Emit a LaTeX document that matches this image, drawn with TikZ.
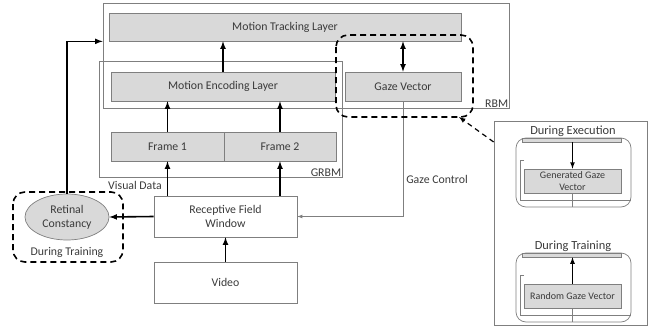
\documentclass[tikz,border=0pt]{standalone}
\usepackage{fontspec}
\setmainfont{Carlito}
\usetikzlibrary{fit,positioning,shapes.geometric}
\definecolor{boxgray}{HTML}{D9D9D9}
\definecolor{linegray}{HTML}{7F7F7F}
\definecolor{txtgray}{HTML}{3A3A3A}
\tikzset{
  frame/.style={draw=linegray,line width=0.7pt,inner sep=0pt},
  layer/.style={draw=linegray,fill=boxgray,line width=0.7pt,inner sep=1pt,text=txtgray,align=center,font=\fontsize{11.8}{14}\selectfont},
  plainbox/.style={layer,fill=white},
  lbl/.style={text=txtgray,inner sep=1pt,font=\fontsize{11.8}{14}\selectfont},
  flow/.style={->,>=latex,line width=1.6pt},
  ctrl/.style={->,>=latex,draw=linegray,line width=0.7pt},
  grouped/.style={draw,line width=1.6pt,dash pattern=on 6pt off 4pt,rounded corners=12pt},
  minipanel/.style={frame,rounded corners=10pt}
}
% one of the two small panels on the right
\newcommand*\gazepanel[5]{%
  \node[lbl,font=\fontsize{12.4}{14}\selectfont] (#1lbl) at (573,#2-7) {#3};
  \node[minipanel,minimum width=115pt,minimum height=69pt] (#1) at (573.5,#2+34.5) {};
  \node[layer,inner sep=0pt,minimum width=99pt,minimum height=4pt] (#1top) at (572,#2+2) {};
  \draw[frame] (524,#2+22) -- (520,#2+22) -- (520,#2+62) -- (631,#2+62);
  \node[layer,font=\fontsize{10}{12}\selectfont,minimum width=97pt,minimum height=24pt] (#1box) at (572.5,#2+43) {#4};
  \draw[flow,line width=1.2pt,#5] (#1top.south -| #1box.north) -- (#1box.north);
  \draw[frame] (#1box.south) -- (#1box.south |- #1.south);
}

\begin{document}
\begin{tikzpicture}[x=1pt,y=-1pt]
\useasboundingbox (0,0) rectangle (665,327);

% model boxes
\node[frame,minimum width=406pt,minimum height=105pt] (rbm) at (306,55.5) {};
\node[frame,minimum width=243pt,minimum height=116pt] (grbm) at (220.5,119) {};
\node[lbl,anchor=south east] at (rbm.south east) {RBM};
\node[lbl,anchor=south east] at (grbm.south east) {GRBM};

\node[layer,minimum width=352pt,minimum height=28pt] (mtl) at (285,27) {Motion Tracking Layer};
\node[layer,minimum width=224pt,minimum height=29pt] (mel) at (223,86.5) {Motion Encoding Layer};
\node[layer,minimum width=116pt,minimum height=29pt] (gv) at (403,86.5) {Gaze Vector};
\node[layer,minimum width=113pt,minimum height=29pt] (f1) at (167.5,146.5) {Frame 1};
\node[layer,minimum width=112pt,minimum height=29pt] (f2) at (280,146.5) {Frame 2};

\node[plainbox,minimum width=143pt,minimum height=41pt] (rfw) at (225.5,216.5) {Receptive Field\\Window};
\node[plainbox,minimum width=143pt,minimum height=41pt] (video) at (225.5,282.5) {Video};
\node[layer,ellipse,minimum width=84pt,minimum height=46pt,inner sep=0pt] (rc) at (67,217) {Retinal\\Constancy};

\node[lbl] at (135,185) {Visual Data};
\node[lbl] at (437,179) {Gaze Control};
\node[lbl] (rctrain) at (67,252) {During Training};

% connections
\draw[flow] (mel.north) -- (mel.north |- mtl.south);
\draw[flow] (f1.north) -- (f1.north |- mel.south);
\draw[flow] (f2.north) -- (f2.north |- mel.south);
\draw[flow] (rfw.north -| f1.north) -- (f1.south);
\draw[flow] (rfw.north -| f2.north) -- (f2.south);
\draw[flow] (video.north) -- (rfw.south);
\draw[flow] (rfw.west) -- (rc.east);
\coordinate (rbmin) at (rbm.west |- mtl.south);
\draw[flow] (rc.north) |- (rbmin);
\draw[flow,<->] (gv.north) -- (gv.north |- mtl.south);
\draw[ctrl] (gv.south) |- (rfw.east);

% dashed groups
\draw[grouped] (13,192) rectangle (123,262);
\draw[grouped] (336,35) rectangle (473,117);

% right panel
\node[frame,minimum width=153pt,minimum height=204pt] (panel) at (570.5,223) {};
\coordinate (gvlink) at (panel.west |- 0,142);
\coordinate (gvgroup) at (459,117);
\draw[->,>=latex,line width=1.2pt,dash pattern=on 5pt off 4pt] (gvlink) -- (gvgroup);

\gazepanel{exec}{138}{During Execution}{Generated Gaze\\Vector}{->}
\gazepanel{trn}{253}{During Training}{Random Gaze Vector}{<-}

\end{tikzpicture}
\end{document}
